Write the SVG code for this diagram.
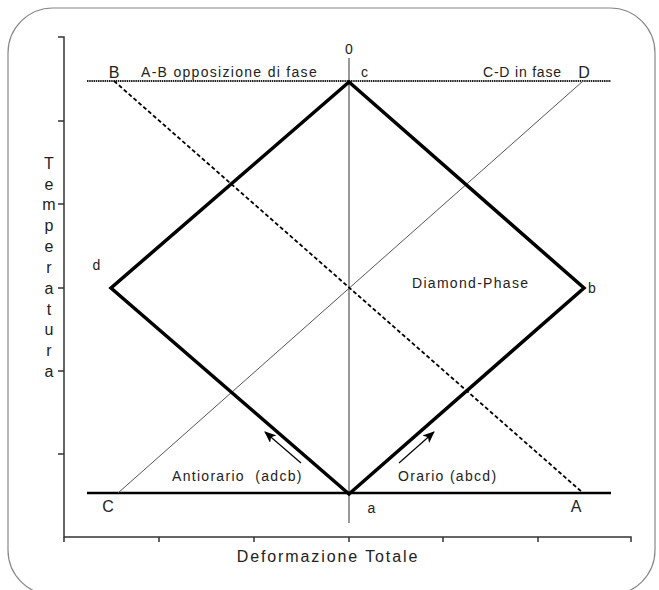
<svg xmlns="http://www.w3.org/2000/svg" width="659" height="590" viewBox="0 0 659 590">
<defs>
<style>
text{font-family:"Liberation Sans",Arial,sans-serif;fill:#222;}
.lbl{font-size:14px;letter-spacing:1.3px;}
.big{font-size:16px;}
.ax{stroke:#333;stroke-width:1.5;fill:none;}
.vert{font-size:16px;text-anchor:middle;}
</style>
<marker id="ah" viewBox="0 0 12 10" refX="11" refY="5" markerWidth="12" markerHeight="10" markerUnits="userSpaceOnUse" orient="auto">
<path d="M0,0 L12,5 L0,10 L3,5 Z" fill="#000"/>
</marker>
</defs>
<rect x="8" y="8" width="647" height="587" rx="45" ry="45" fill="#fff" stroke="#888" stroke-width="1.2"/>
<g id="axes">
<path class="ax" d="M58,37 H64 V537 H631 V542"/>
<path class="ax" d="M58,121 H64 M58,204 H64 M58,288 H64 M58,371 H64 M58,454 H64"/>
<path class="ax" d="M64,537 V542 M159,537 V542 M254,537 V542 M349,537 V542 M443,537 V542 M538,537 V542"/>
</g>
<g id="connectors">
<line x1="349" y1="58" x2="349" y2="523" stroke="#777" stroke-width="1.5"/>
<line x1="87" y1="81" x2="611" y2="81" stroke="#222" stroke-width="2" stroke-dasharray="1.5,0.7"/>
<line x1="87" y1="493" x2="611" y2="493" stroke="#000" stroke-width="2.5"/>
<line x1="118" y1="493" x2="583" y2="81" stroke="#555" stroke-width="1"/>
<line x1="114" y1="81" x2="583" y2="493" stroke="#000" stroke-width="1.8" stroke-dasharray="4,2.5"/>
<line x1="301" y1="463" x2="265" y2="432" stroke="#000" stroke-width="1.2" marker-end="url(#ah)"/>
<line x1="399" y1="463" x2="434" y2="432" stroke="#000" stroke-width="1.2" marker-end="url(#ah)"/>
</g>
<g id="diamond">
<path d="M349,82 L584,288 L349,494 L111,288 Z" fill="none" stroke="#000" stroke-width="3.5" stroke-linejoin="miter"/>
</g>
<g id="labels">
<text x="349" y="54" class="lbl" text-anchor="middle" style="letter-spacing:0">0</text>
<text x="114" y="78" class="big" text-anchor="middle">B</text>
<text x="141" y="77" class="lbl">A-B opposizione di fase</text>
<text x="361" y="77" class="lbl">c</text>
<text x="483" y="77" class="lbl" style="letter-spacing:0.8px">C-D in fase</text>
<text x="584" y="78" class="big" text-anchor="middle">D</text>
<text x="97" y="270" class="lbl" text-anchor="middle">d</text>
<text x="412" y="288" class="lbl">Diamond-Phase</text>
<text x="588" y="293" class="lbl">b</text>
<text x="172" y="481" class="lbl" style="white-space:pre" xml:space="preserve">Antiorario  (adcb)</text>
<text x="398" y="481" class="lbl">Orario (abcd)</text>
<text x="108" y="512" class="big" text-anchor="middle">C</text>
<text x="576" y="512" class="big" text-anchor="middle">A</text>
<text x="372" y="513" class="lbl" text-anchor="middle">a</text>
<text x="328" y="562" class="big" text-anchor="middle" style="letter-spacing:1.9px">Deformazione Totale</text>
</g>
<g id="ylabel">
<text class="vert" x="49" y="169">T</text>
<text class="vert" x="49" y="190">e</text>
<text class="vert" x="49" y="210">m</text>
<text class="vert" x="49" y="231">p</text>
<text class="vert" x="49" y="252">e</text>
<text class="vert" x="49" y="273">r</text>
<text class="vert" x="49" y="294">a</text>
<text class="vert" x="49" y="315">t</text>
<text class="vert" x="49" y="335">u</text>
<text class="vert" x="49" y="356">r</text>
<text class="vert" x="49" y="377">a</text>
</g>
</svg>
